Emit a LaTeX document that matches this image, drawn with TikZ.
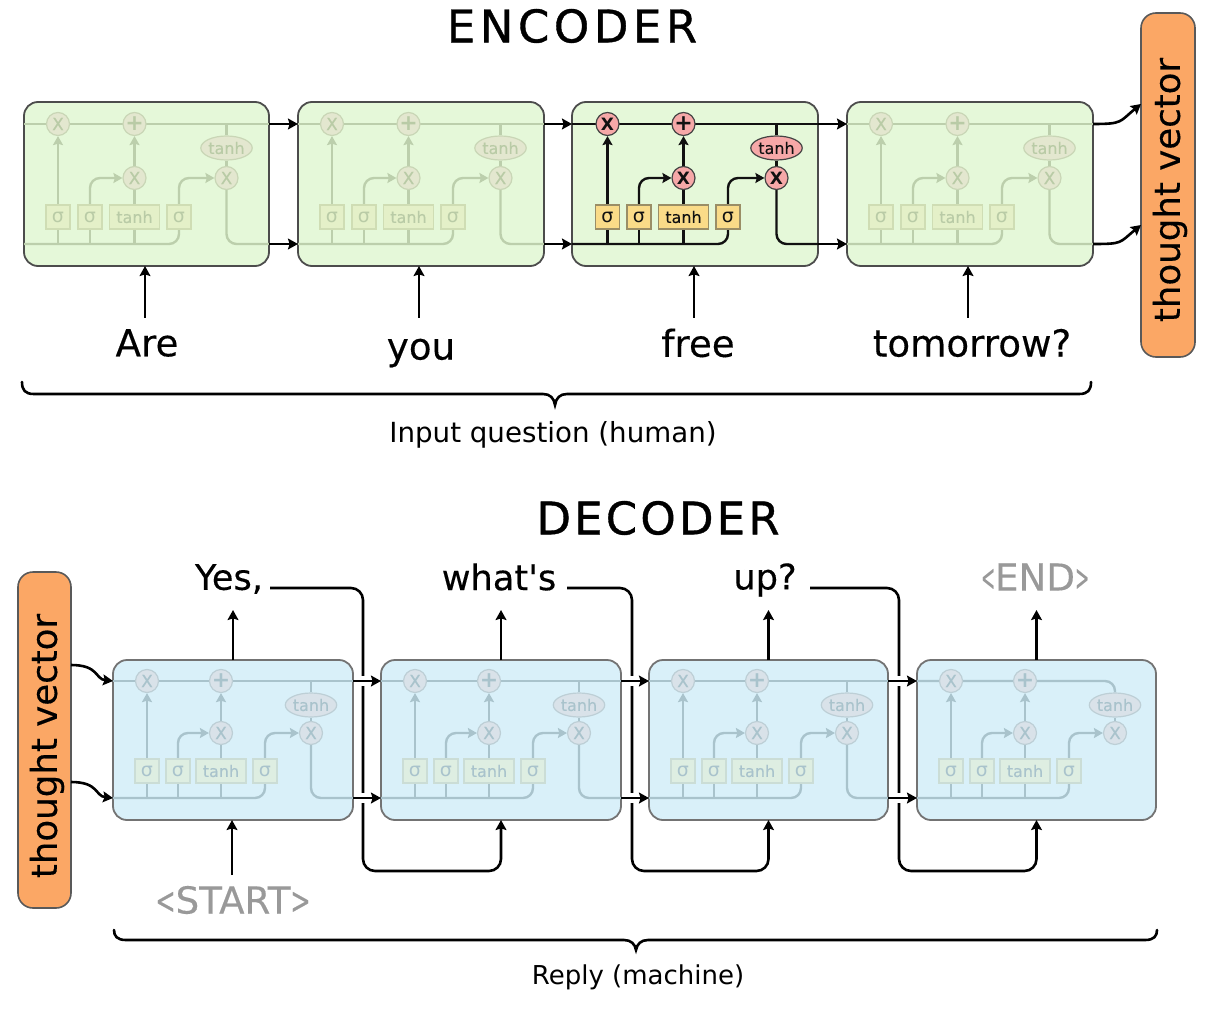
\documentclass[tikz,border=0pt]{standalone}
\usepackage{fontspec}
\usepackage{graphicx}
\setmainfont{DejaVu Sans}
\newfontfamily\plainword{DejaVu Sans}
\usetikzlibrary{arrows.meta,calc,shapes.geometric}
\pgfdeclarelayer{cellback}
\pgfdeclarelayer{cellmid}
\pgfsetlayers{cellback,cellmid,main}
\definecolor{encfill}{HTML}{E5F8D9}
\definecolor{decfill}{HTML}{D9F0F9}
\definecolor{orangev}{HTML}{FBA765}
\definecolor{greytext}{HTML}{999999}
\newcommand\heavy[1]{\addfontfeature{FakeBold=#1}}
\tikzset{
  x=0.5pt,y=-0.5pt,
  tip/.style={-{Stealth[length=5pt,width=5.4pt,inset=.8pt]}},
  flow/.style={line width=1.3pt,black},
  cellbox/.style={draw=cellborder,line width=0.9pt,rounded corners=7pt,inner sep=0,outer sep=0,fill=cellfill},
  inner/.style={line width=1.2pt,draw=lstmline,rounded corners=5pt},
  innertip/.style={inner,-{Stealth[length=4.5pt,width=5pt,inset=.7pt]}},
  opcircle/.style={circle,draw=lstmrim,line width=.6pt,fill=lstmcirc,text=lstmtext,minimum size=11.5pt,inner sep=0,font=\fontsize{8.5}{9}\selectfont\lstmweight},
  opellipse/.style={ellipse,draw=lstmrim,line width=.6pt,fill=lstmcirc,text=lstmtext,minimum width=24pt,minimum height=12pt,inner sep=0,font=\fontsize{8}{9}\selectfont\heavy{0.25}},
  opbox/.style={rectangle,draw=lstmboxl,line width=.6pt,fill=lstmbox,text=lstmtext,minimum height=12pt,inner sep=0,font=\fontsize{8}{9}\selectfont\heavy{0.25}},
  smallbox/.style={opbox,minimum width=12pt,font=\fontsize{9.5}{10}\selectfont},
  widebox/.style={opbox,minimum width=25pt},
  vector/.style={draw=black!65,fill=orangev,line width=.8pt,rounded corners=7.5pt,inner sep=0,outer sep=0},
  vectext/.style={rotate=90,font=\fontsize{17.8}{20}\selectfont\heavy{0.3}},
  word/.style={font=\fontsize{18.6}{20}\selectfont\heavy{0.3},inner sep=0},
  decword/.style={font=\fontsize{17.6}{20}\selectfont\heavy{0.3},inner sep=0},
  title/.style={font=\fontsize{22.5}{24}\selectfont\addfontfeature{LetterSpace=#1,FakeBold=0.8},inner sep=0},
  caption/.style={inner sep=0},
  bracket/.style={line width=1.3pt,black,line cap=round},
}
\newcommand\setactive{\definecolor{lstmline}{HTML}{111111}\definecolor{lstmrim}{HTML}{444444}\definecolor{lstmcirc}{HTML}{F6A8A8}\definecolor{lstmbox}{HTML}{FADB88}\definecolor{lstmboxl}{HTML}{9A8E66}\definecolor{lstmtext}{HTML}{111111}\colorlet{cellborder}{black!70}\colorlet{cellfill}{encfill}\def\lstmweight{\bfseries}}
\newcommand\setencfade{\definecolor{lstmline}{HTML}{BCCFAC}\definecolor{lstmrim}{HTML}{C9D6B6}\definecolor{lstmcirc}{HTML}{E3E7CF}\definecolor{lstmbox}{HTML}{E4F0C8}\definecolor{lstmboxl}{HTML}{CFDDB4}\definecolor{lstmtext}{HTML}{B9CBA6}\colorlet{cellborder}{black!70}\colorlet{cellfill}{encfill}\def\lstmweight{\heavy{0.3}}}
\newcommand\setdecfade{\definecolor{lstmline}{HTML}{A9C3CC}\definecolor{lstmrim}{HTML}{BDCFD6}\definecolor{lstmcirc}{HTML}{D9E2E9}\definecolor{lstmbox}{HTML}{DEEEE2}\definecolor{lstmboxl}{HTML}{CBDDD6}\definecolor{lstmtext}{HTML}{A9C3CC}\colorlet{cellborder}{black!55}\colorlet{cellfill}{decfill}\def\lstmweight{\heavy{0.3}}}
% layout offsets
\newcommand\enclayout{\def\xa{34}\def\xb{110.5}\def\xc{202.5}\def\bxa{34}\def\bxb{66}\def\bxc{110.5}\def\bxd{155}\def\ya{22}\def\yb{46}\def\yc{76}\def\yd{115}\def\ye{142}}
\newcommand\activelayout{\def\xa{35.5}\def\xb{111.5}\def\xc{204.5}\def\bxa{35.5}\def\bxb{67}\def\bxc{111.5}\def\bxd{156}\def\ya{22}\def\yb{46}\def\yc{76}\def\yd{115}\def\ye{142}}
\newcommand\declayout{\def\xa{34}\def\xb{108}\def\xc{198}\def\bxa{34}\def\bxb{65}\def\bxc{108}\def\bxd{152}\def\ya{21}\def\yb{45}\def\yc{73}\def\yd{111}\def\ye{138}}
% #1 name, #2 x, #3 y, #4 width, #5 height, #6 1 if the state leaves the cell
\newcommand\lstm[6]{%
  \begin{pgfonlayer}{cellback}
    \node[cellbox,anchor=north west,minimum width=#4*0.5pt,minimum height=#5*0.5pt] (#1) at (#2,#3) {};
  \end{pgfonlayer}
  \coordinate (#1-tl) at (#2,#3+\ya);
  \coordinate (#1-tr) at (#2+#4,#3+\ya);
  \coordinate (#1-bl) at (#2,#3+\ye);
  \coordinate (#1-br) at (#2+#4,#3+\ye);
  \node[opcircle] (#1-c1) at (#2+\xa,#3+\ya) {X};
  \node[opcircle,font=\fontsize{11}{11}\selectfont\bfseries] (#1-plus) at (#2+\xb,#3+\ya) {+};
  \node[opcircle] (#1-c2) at (#2+\xb,#3+\yc) {X};
  \node[opcircle] (#1-c3) at (#2+\xc,#3+\yc) {X};
  \node[opellipse] (#1-ell) at (#2+\xc,#3+\yb) {tanh};
  \node[smallbox] (#1-b1) at (#2+\bxa,#3+\yd) {σ};
  \node[smallbox] (#1-b2) at (#2+\bxb,#3+\yd) {σ};
  \node[widebox] (#1-b3) at (#2+\bxc,#3+\yd) {tanh};
  \node[smallbox] (#1-b4) at (#2+\bxd,#3+\yd) {σ};
  \begin{pgfonlayer}{cellmid}
    \draw[inner] (#1-bl) -| (#1-b4.south);
    \draw[innertip] (#1-b1.north) -- (#1-c1.south);
    \draw[inner] (#1-b1.south) -- (#1-b1.south |- #1-bl);
    \draw[inner] (#1-b2.south) -- (#1-b2.south |- #1-bl);
    \draw[inner] (#1-b3.south) -- (#1-b3.south |- #1-bl);
    \draw[innertip] (#1-b2.north) |- (#1-c2.west);
    \draw[innertip] (#1-b4.north) |- (#1-c3.west);
    \draw[inner] (#1-b3.north) -- (#1-c2.south);
    \draw[innertip] (#1-c2.north) -- (#1-plus.south);
    \draw[inner] (#1-ell.south) -- (#1-c3.north);
    \ifnum#6=1
      \draw[inner] (#1-tl) -- (#1-tr);
      \draw[inner] (#1-ell.north) -- (#1-ell.north |- #1-tl);
      \draw[inner] (#1-c3.south) |- (#1-br);
    \else
      \draw[inner] (#1-tl) -| (#1-ell.north);
    \fi
  \end{pgfonlayer}
}
\begin{document}
\begin{tikzpicture}
\useasboundingbox (0,0) rectangle (1208,1010);
% ENCODER
\node[title=10] (enctitle) at (572,26) {ENCODER};
\enclayout
\setencfade
\lstm{ea}{24}{102}{245}{164}{1}
\lstm{eb}{298}{102}{246}{164}{1}
\lstm{ed}{847}{102}{246}{164}{1}
\activelayout
\setactive
\lstm{ec}{572}{102}{246}{164}{1}
\foreach \p/\q in {ea/eb,eb/ec,ec/ed}{
  \draw[flow,tip] (\p-tr) -- (\q-tl);
  \draw[flow,tip] (\p-br) -- (\q-bl);
}
\node[vector,minimum width=27pt,minimum height=172pt] (tv1) at (1168,185) {};
\node[vectext] (tv1t) at (1170,190) {thought vector};
\coordinate (tv1a) at (tv1.west |- 0,104);
\coordinate (tv1b) at (tv1.west |- 0,225);
\draw[flow,tip] (ed-tr) .. controls +(30,0) and +(-22,18) .. (tv1a);
\draw[flow,tip] (ed-br) .. controls +(30,0) and +(-22,18) .. (tv1b);
\node[word] (are) at (147,343) {Are};
\node[word] (you) at (421,353) {you};
\node[word] (free) at (698,343) {free};
\node[word] (tom) at (972,343) {tomorrow?};
\coordinate (ia) at (145,318);
\coordinate (ib) at (419,318);
\coordinate (ic) at (694,318);
\coordinate (id) at (968,318);
\draw[flow,tip] (ia) -- (ia |- ea.south);
\draw[flow,tip] (ib) -- (ib |- eb.south);
\draw[flow,tip] (ic) -- (ic |- ec.south);
\draw[flow,tip] (id) -- (id |- ed.south);
\coordinate (bra) at (22,382);
\coordinate (brb) at (1091,382);
\coordinate (brc) at (555,405);
\draw[bracket] (bra) .. controls (22,390) and (25,394) .. (34,394) -- (543,394) .. controls (550,394) and (554,398) .. (brc) .. controls (556,398) and (560,394) .. (567,394) -- (1079,394) .. controls (1088,394) and (1091,390) .. (brb);
\node[caption,font=\fontsize{13.85}{16}\selectfont] (incap) at (553,435) {Input question (human)};
% DECODER
\node[title=7] (dectitle) at (658,518) {DECODER};
\declayout
\setdecfade
\lstm{da}{113}{660}{240}{160}{1}
\lstm{db}{381}{660}{240}{160}{1}
\lstm{dc}{649}{660}{239}{160}{1}
\lstm{dd}{917}{660}{239}{160}{0}
\node[vector,minimum width=26.5pt,minimum height=168pt] (tv2) at (44.5,740) {};
\node[vectext] (tv2t) at (47,746) {thought vector};
\draw[flow,tip] (tv2.east |- 0,665) .. controls +(28,0) and +(-18,-2) .. (da-tl);
\draw[flow,tip] (tv2.east |- 0,782) .. controls +(28,0) and +(-18,-2) .. (da-bl);
\node[decword] (w1) at (229,579) {Yes,};
\node[decword] (w2) at (499,577) {\plainword\heavy{0.3}what's};
\node[decword] (w3) at (765,580) {up?};
\node[word,text=greytext] (w4) at (1035,577) {\scalebox{.45}[1]{<}END\scalebox{.45}[1]{>}};
\node[word,text=greytext] (st) at (233,900) {\scalebox{.65}[1]{<}START\scalebox{.65}[1]{>}};
\foreach \c/\w in {da/w1,db/w2,dc/w3,dd/w4}{
  \draw[flow,tip] (\c.north) -- ++(0,-50);
}
\coordinate (sa) at (232,875);
\draw[flow,tip] (sa) -- (sa |- da.south);
\coordinate (la) at (270,588);
\coordinate (lb) at (567,588);
\coordinate (lc) at (810,588);
\coordinate (va) at (363,871);
\coordinate (vb) at (632,871);
\coordinate (vc) at (899,871);
\draw[flow,tip,rounded corners=6pt] (la) -| (va) -| (db.south);
\draw[flow,tip,rounded corners=6pt] (lb) -| (vb) -| (dc.south);
\draw[flow,tip,rounded corners=6pt] (lc) -| (vc) -| (dd.south);
\foreach \p/\q in {da/db,db/dc,dc/dd}{
  \draw[white,line width=5pt] ([xshift=3pt]\p-tr) -- ([xshift=7pt]\p-tr);
  \draw[white,line width=5pt] ([xshift=3pt]\p-br) -- ([xshift=7pt]\p-br);
  \draw[flow,tip] (\p-tr) -- (\q-tl);
  \draw[flow,tip] (\p-br) -- (\q-bl);
}
\coordinate (brd) at (114,930);
\coordinate (bre) at (1157,930);
\coordinate (brf) at (636,950);
\draw[bracket] (brd) .. controls (114,936) and (117,940) .. (126,940) -- (624,940) .. controls (631,940) and (635,944) .. (brf) .. controls (637,944) and (641,940) .. (648,940) -- (1145,940) .. controls (1154,940) and (1157,936) .. (bre);
\node[caption,font=\fontsize{13}{15}\selectfont] (outcap) at (638,977) {Reply (machine)};
\end{tikzpicture}
\end{document}
